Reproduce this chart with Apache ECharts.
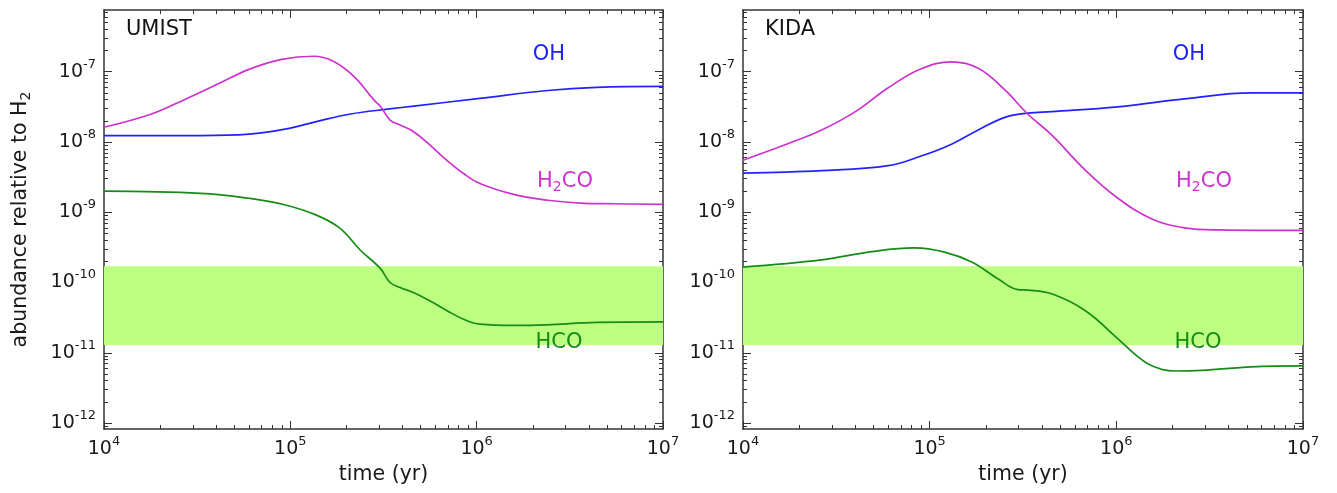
<!DOCTYPE html>
<html><head><meta charset="utf-8">
<script src="https://cdn.jsdelivr.net/npm/echarts@6/dist/echarts.min.js"></script>
<style>html,body{margin:0;padding:0;background:#fff}#c{width:1337px;height:493px}</style>
</head><body><div id="c"></div>
<script>
// ---------- data ----------
const umistOHt   = [1e4, 3.3e4, 6e4, 9.2e4, 1.38e5, 2.1e5, 3.4e5, 4.6e5, 1.04e6, 2.4e6, 4.4e6, 1e7];
const umistOH    = [1.23e-8, 1.23e-8, 1.29e-8, 1.51e-8, 1.95e-8, 2.5e-8, 2.95e-8, 3.24e-8, 4.17e-8, 5.4e-8, 6.0e-8, 6.2e-8];
const umistH2COt = [1e4, 1.8e4, 2.7e4, 4e4, 6e4, 9e4, 1.33e5, 1.7e5, 2.2e5, 2.8e5, 3.05e5, 3.43e5, 3.88e5, 4.57e5, 5.6e5, 6.9e5, 8.5e5, 1.04e6, 1.6e6, 2.4e6, 3.6e6, 5.4e6, 1e7];
const umistH2CO  = [1.62e-8, 2.5e-8, 4.0e-8, 6.5e-8, 1.08e-7, 1.5e-7, 1.66e-7, 1.41e-7, 8.5e-8, 4.0e-8, 3.2e-8, 2.05e-8, 1.74e-8, 1.41e-8, 9.1e-9, 5.5e-9, 3.55e-9, 2.57e-9, 1.78e-9, 1.48e-9, 1.35e-9, 1.32e-9, 1.29e-9];
const umistHCOt  = [1e4, 3.3e4, 6e4, 9.2e4, 1.38e5, 1.85e5, 2.37e5, 3.03e5, 3.43e5, 3.88e5, 4.57e5, 5.6e5, 6.9e5, 8.5e5, 1.04e6, 1.57e6, 2.38e6, 4.4e6, 1e7];
const umistHCO   = [2.0e-9, 1.86e-9, 1.58e-9, 1.29e-9, 9.1e-10, 5.9e-10, 2.9e-10, 1.6e-10, 1.0e-10, 8.5e-11, 7.2e-11, 5.5e-11, 4.0e-11, 3.0e-11, 2.55e-11, 2.45e-11, 2.5e-11, 2.7e-11, 2.75e-11];

const kidaOHt    = [1e4, 2.64e4, 6e4, 9e4, 1.31e5, 1.82e5, 2.53e5, 3.35e5, 4.5e5, 1.02e6, 2.32e6, 5.3e6, 1e7];
const kidaOH     = [3.6e-9, 3.9e-9, 4.6e-9, 6.3e-9, 9.3e-9, 1.48e-8, 2.24e-8, 2.57e-8, 2.7e-8, 3.16e-8, 4.1e-8, 5.0e-8, 5.0e-8];
const kidaH2COt  = [1e4, 1.75e4, 2.64e4, 4e4, 6e4, 9e4, 1.31e5, 1.82e5, 2.53e5, 3.35e5, 4.5e5, 6.8e5, 1.02e6, 1.54e6, 2.32e6, 3.5e6, 1e7];
const kidaH2CO   = [5.5e-9, 9.5e-9, 1.48e-8, 2.7e-8, 5.9e-8, 1.1e-7, 1.38e-7, 1.12e-7, 5.5e-8, 2.5e-8, 1.26e-8, 4.0e-9, 1.58e-9, 8.1e-10, 6.0e-10, 5.6e-10, 5.5e-10];
const kidaHCOt   = [1e4, 2.64e4, 4.9e4, 8.3e4, 1.2e5, 1.68e5, 2.33e5, 2.98e5, 3.37e5, 4.5e5, 6.8e5, 1.02e6, 1.26e6, 1.54e6, 2.06e6, 2.86e6, 5.3e6, 1e7];
const kidaHCO    = [1.66e-10, 2.1e-10, 2.75e-10, 3.1e-10, 2.7e-10, 1.95e-10, 1.12e-10, 7.9e-11, 7.8e-11, 6.9e-11, 4.0e-11, 1.58e-11, 9.5e-12, 6.6e-12, 5.5e-12, 5.6e-12, 6.3e-12, 6.5e-12];

const bandRange  = [1.29e-11, 1.7e-10];   // observed HCO abundance range
const panelTitles = ['UMIST', 'KIDA'];
const xMajorTicks = [1e4, 1e5, 1e6, 1e7];
const yMajorTicks = [1e-12, 1e-11, 1e-10, 1e-9, 1e-8, 1e-7];
const xRange = [1e4, 1e7];
const yRange = [Math.pow(10, -12.085), Math.pow(10, -6.122)];

// minor tick positions (2..9 x 10^n)
const xMinorTicks = [], yMinorTicks = [];
for (let n = 4; n <= 6; n++) for (let k = 2; k <= 9; k++) xMinorTicks.push(k * Math.pow(10, n));
for (let n = -13; n <= -7; n++) for (let k = 2; k <= 9; k++) yMinorTicks.push(k * Math.pow(10, n));

// ---------- styles ----------
const FONT = 'DejaVu Sans';
const C_OH = '#2222ff', C_H2CO = '#cc33cc', C_HCO = '#168c16', C_BAND = '#bdff80';
const AX = '#333333';

const tickRich = {
  b: { fontSize: 19, fontFamily: FONT, color: '#1a1a1a', lineHeight: 28 },
  s: { fontSize: 13, fontFamily: FONT, color: '#1a1a1a', lineHeight: 13, verticalAlign: 'top' }
};
const powFmt = v => '{b|10}{s|' + Math.round(Math.log10(v)) + '}';

const grids = [
  { left: 104, top: 10, width: 559, height: 419, outerBoundsMode: 'none' },
  { left: 743, top: 10, width: 560, height: 419, outerBoundsMode: 'none' }
];

function mkAxis(dim, g, pos, ticks, len, major, labels, extra) {
  const a = {
    type: 'log', logBase: 10, gridIndex: g, position: pos,
    min: dim === 'x' ? xRange[0] : yRange[0],
    max: dim === 'x' ? xRange[1] : yRange[1],
    axisLine: { show: major, onZero: false, lineStyle: { color: AX, width: 1.5 } },
    axisTick: { show: true, inside: true, length: len, customValues: ticks, lineStyle: { color: AX, width: 1 } },
    axisLabel: labels ? {
      show: true, customValues: ticks, formatter: powFmt, rich: tickRich,
      margin: dim === 'x' ? 6 : 8
    } : { show: false },
    splitLine: { show: false },
    minorTick: { show: false },
    axisPointer: { show: false }
  };
  return Object.assign(a, extra || {});
}

const xAxes = [], yAxes = [];
for (let g = 0; g < 2; g++) {
  xAxes.push(mkAxis('x', g, 'bottom', xMajorTicks, 8, true, true, {
    name: 'time (yr)', nameLocation: 'middle', nameGap: 35,
    nameTextStyle: { fontSize: 20.5, fontFamily: FONT, color: '#1a1a1a' }
  }));
  xAxes.push(mkAxis('x', g, 'bottom', xMinorTicks, 4, false, false));
  xAxes.push(mkAxis('x', g, 'top', xMajorTicks, 8, true, false));
  xAxes.push(mkAxis('x', g, 'top', xMinorTicks, 4, false, false));

  yAxes.push(mkAxis('y', g, 'left', yMajorTicks, 8, true, true, g === 0 ? {
    name: '{a|abundance relative to H}{s|2}', nameLocation: 'middle', nameGap: 71, nameRotate: 90,
    nameTextStyle: {
      rich: {
        a: { fontSize: 20.5, fontFamily: FONT, color: '#1a1a1a', lineHeight: 25 },
        s: { fontSize: 14, fontFamily: FONT, color: '#1a1a1a', lineHeight: 14, verticalAlign: 'bottom' }
      }
    }
  } : {}));
  yAxes.push(mkAxis('y', g, 'left', yMinorTicks, 4, false, false));
  yAxes.push(mkAxis('y', g, 'right', yMajorTicks, 8, true, false));
  yAxes.push(mkAxis('y', g, 'right', yMinorTicks, 4, false, false));
}

const zip = (t, v) => t.map((x, i) => [x, v[i]]);
function line(g, t, v, color, withBand) {
  const s = {
    type: 'line', xAxisIndex: g * 4, yAxisIndex: g * 4,
    data: zip(t, v), showSymbol: false, symbol: 'none',
    smooth: 0.4,
    lineStyle: { color: color, width: 1.7 }, itemStyle: { color: color },
    z: 3, silent: true, animation: false
  };
  if (withBand) {
    s.markArea = {
      silent: true, z: 1,
      itemStyle: { color: C_BAND, opacity: 1, borderWidth: 0 },
      data: [[{ xAxis: xRange[0], yAxis: bandRange[1] }, { xAxis: xRange[1], yAxis: bandRange[0] }]]
    };
  }
  return s;
}

const series = [
  line(0, umistHCOt, umistHCO, C_HCO, true),
  line(0, umistOHt, umistOH, C_OH),
  line(0, umistH2COt, umistH2CO, C_H2CO),
  line(1, kidaHCOt, kidaHCO, C_HCO, true),
  line(1, kidaOHt, kidaOH, C_OH),
  line(1, kidaH2COt, kidaH2CO, C_H2CO)
];

// ---------- annotation texts ----------
function txt(x, y, text, color, align, rich) {
  const st = { text: text, fontSize: 21, fontFamily: FONT, fill: color, align: align || 'center', verticalAlign: 'middle' };
  if (rich) st.rich = rich;
  return { type: 'text', x: x, y: y, z: 10, silent: true, style: st };
}
const subRich = c => ({
  a: { fontSize: 21, fontFamily: FONT, fill: c, lineHeight: 24 },
  s: { fontSize: 14, fontFamily: FONT, fill: c, lineHeight: 14, verticalAlign: 'bottom' }
});
const graphic = [
  txt(126, 30, panelTitles[0], '#111', 'left'),
  txt(765, 30, panelTitles[1], '#111', 'left'),
  txt(549, 55, 'OH', C_OH),
  txt(565, 182, '{a|H}{s|2}{a|CO}', C_H2CO, 'center', subRich(C_H2CO)),
  txt(559, 343, 'HCO', C_HCO),
  txt(1189, 55, 'OH', C_OH),
  txt(1204, 182, '{a|H}{s|2}{a|CO}', C_H2CO, 'center', subRich(C_H2CO)),
  txt(1198, 343, 'HCO', C_HCO)
];

const chart = echarts.init(document.getElementById('c'), null, { renderer: 'canvas' });
chart.setOption({
  animation: false,
  backgroundColor: '#ffffff',
  grid: grids,
  xAxis: xAxes,
  yAxis: yAxes,
  series: series,
  graphic: graphic
});
</script></body></html>
